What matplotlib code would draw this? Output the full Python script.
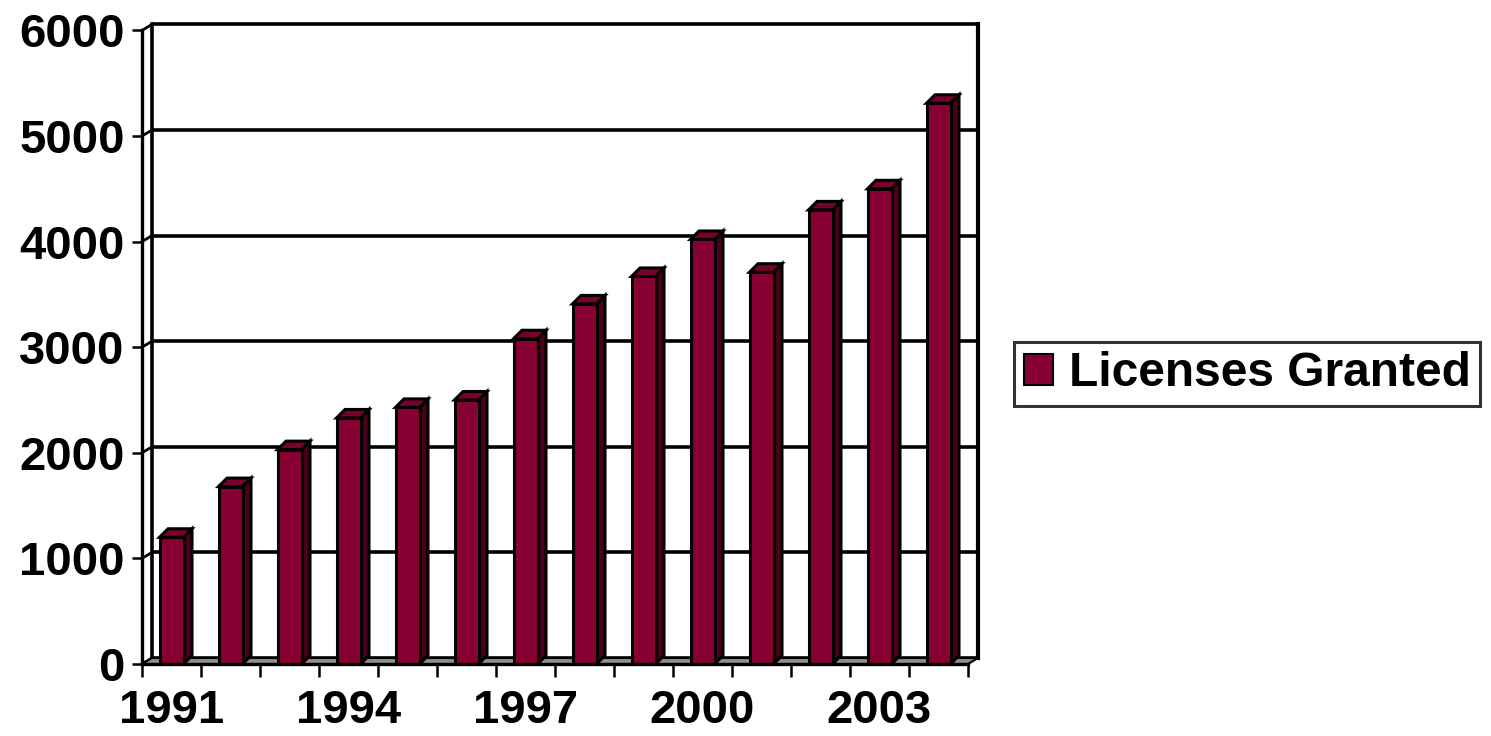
import matplotlib
matplotlib.use("Agg")
import matplotlib.pyplot as plt
from matplotlib.patches import Polygon, Patch

years = ["1991", "1992", "1993", "1994", "1995", "1996", "1997",
         "1998", "1999", "2000", "2001", "2002", "2003", "2004"]
licenses = [1200, 1680, 2030, 2330, 2430, 2500, 3080,
            3410, 3670, 4020, 3710, 4300, 4500, 5310]
yticks = [0, 1000, 2000, 3000, 4000, 5000, 6000]
xlabel_every = 3
series_name = "Licenses Granted"

FRONT = "#870033"
SIDE = "#4a0019"
TOP = "#7a002e"
FLOOR = "#8f8f8f"

W, H = 1491, 736
fig = plt.figure(figsize=(W / 100, H / 100), dpi=100)
plt.rcParams['font.family'] = ['Liberation Sans', 'DejaVu Sans']

# pixel geometry
x0_px, y0_px = 142, 664
px_cat = 59.0
px_val = 0.1056
right_px, top_px = 990, 10
ax = fig.add_axes([x0_px / W, (H - y0_px) / H,
                   (right_px - x0_px) / W, (y0_px - top_px) / H])
ax.set_xlim(0, (right_px - x0_px) / px_cat)
ax.set_ylim(0, (y0_px - top_px) / px_val)

n = len(years)
ymax = yticks[-1]
dxw = 10 / px_cat
dyw = 6 / px_val
dxb = 8.5 / px_cat
dyb = 8.5 / px_val
bw = 24 / px_cat

# back wall and gridlines
for v in yticks:
    ax.plot([dxw, n + dxw], [v + dyw, v + dyw], color="black", lw=2.6, zorder=1,
            solid_capstyle="butt")
    ax.plot([0, dxw], [v, v + dyw], color="black", lw=2.0, zorder=1, clip_on=False)
ax.plot([dxw, dxw], [dyw, ymax + dyw], color="black", lw=2.6, zorder=1)
ax.plot([n + dxw, n + dxw], [dyw, ymax + dyw], color="black", lw=3.0, zorder=1)

# floor
floor = Polygon([(0, 0), (n, 0), (n + dxw, dyw), (dxw, dyw)], closed=True,
                facecolor=FLOOR, edgecolor="black", lw=1.5, zorder=2)
ax.add_patch(floor)

# bars
centers = [i + 0.5 for i in range(n)]
ax.bar(centers, licenses, width=bw, color=FRONT, edgecolor="black", lw=2.2, zorder=4)
for c, v in zip(centers, licenses):
    r = c + bw / 2
    l = c - bw / 2
    ax.add_patch(Polygon([(r, 0), (r + dxb, dyb), (r + dxb, v + dyb), (r, v)],
                         closed=True, facecolor=SIDE, edgecolor="black", lw=2.2, zorder=3))
    ax.add_patch(Polygon([(l, v), (r, v), (r + dxb, v + dyb), (l + dxb, v + dyb)],
                         closed=True, facecolor=TOP, edgecolor="black", lw=2.2, zorder=3))

# axes / ticks
for s in ["top", "right"]:
    ax.spines[s].set_visible(False)
ax.spines["left"].set_bounds(0, ymax)
ax.spines["bottom"].set_bounds(0, n)
ax.spines["left"].set_linewidth(2.4)
ax.spines["bottom"].set_linewidth(2.4)
ax.spines["left"].set_zorder(5)
ax.spines["bottom"].set_zorder(5)

ax.set_yticks(yticks)
ax.set_yticklabels([str(v) for v in yticks])
ax.tick_params(axis="y", length=7.5, width=1.8, pad=5, labelsize=34)
ax.set_xticks(range(n + 1))
ax.set_xticklabels([])
ax.tick_params(axis="x", which="major", length=9, width=1.8)
ax.set_xticks([centers[i] for i in range(0, n, xlabel_every)], minor=True)
ax.set_xticklabels([years[i] for i in range(0, n, xlabel_every)], minor=True)
ax.tick_params(axis="x", which="minor", length=0, pad=18, labelsize=34)
for lab in ax.get_yticklabels() + ax.get_xticklabels(minor=True):
    lab.set_fontweight("bold")

ax.patch.set_visible(False)

leg = fig.legend(handles=[Patch(facecolor=FRONT, edgecolor="black", lw=1.5,
                                label=series_name)],
                 loc="center left", bbox_to_anchor=(1014 / W, (H - 374) / H),
                 frameon=True, fancybox=False, borderaxespad=0,
                 prop={"size": 34.5, "weight": "bold"},
                 handlelength=0.62, handleheight=0.62, handletextpad=0.32,
                 borderpad=0.2)
leg.get_frame().set_edgecolor("black")
leg.get_frame().set_linewidth(2.2)

fig.savefig("out.png", dpi=100)
